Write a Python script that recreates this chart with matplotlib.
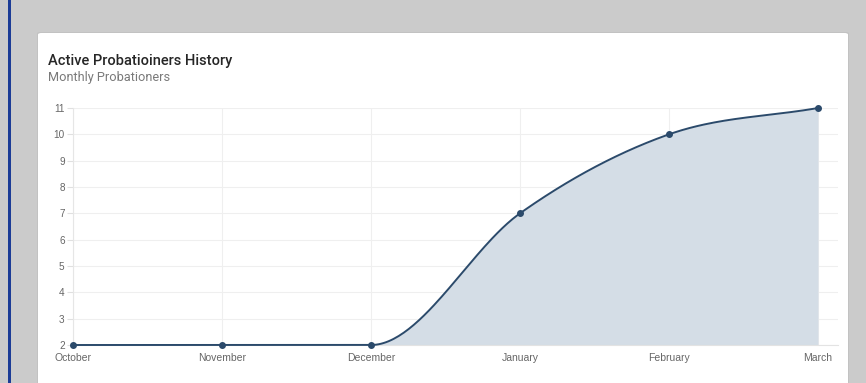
import numpy as np
import matplotlib
matplotlib.use("Agg")
import matplotlib.pyplot as plt
from matplotlib.patches import FancyBboxPatch, Rectangle

months = ["October", "November", "December", "January", "February", "March"]
values = [2, 2, 2, 7, 10, 11]
yticks = list(range(2, 12))
title = "Active Probatioiners History"
subtitle = "Monthly Probationers"

W, H = 866, 383
fig = plt.figure(figsize=(W / 100, H / 100), dpi=100)
fig.patch.set_facecolor("#cbcbcb")

def fx(px):
    return px / W

def fy(py):
    return 1 - py / H

# left blue bar
fig.patches.append(Rectangle((fx(8), 0), fx(3), 1, transform=fig.transFigure,
                             facecolor="#1c3c96", edgecolor="none", zorder=-10))
# card shadow + card
fig.patches.append(FancyBboxPatch((fx(37), fy(400)), fx(812), fy(32) - fy(400),
                                  boxstyle="round,pad=0,rounding_size=0.004",
                                  transform=fig.transFigure, facecolor="#c2c2c2",
                                  edgecolor="none", zorder=-10))
fig.patches.append(FancyBboxPatch((fx(38), fy(400)), fx(810), fy(33) - fy(400),
                                  boxstyle="round,pad=0,rounding_size=0.004",
                                  transform=fig.transFigure, facecolor="white",
                                  edgecolor="none", zorder=-9))

fig.text(fx(48), fy(61), title, fontsize=10.5, color="#262626", family="Roboto",
         weight="medium", va="center", ha="left")
fig.text(fx(48), fy(77), subtitle, fontsize=9.2, color="#7a7a7a", family="Roboto",
         va="center", ha="left")

# axes
left, right, top, bottom = 73, 838, 108, 345
ax = fig.add_axes([fx(left), fy(bottom), fx(right - left), fy(top) - fy(bottom)])
ax.set_zorder(5)
ax.set_facecolor("none")
x = np.arange(len(values))
y = np.array(values, dtype=float)

# monotone cubic (Chart.js style)
d = np.diff(y)
m = np.zeros(len(y))
m[0] = d[0]
m[-1] = d[-1]
for i in range(1, len(y) - 1):
    if np.sign(d[i - 1]) != np.sign(d[i]):
        m[i] = 0
    else:
        m[i] = (d[i - 1] + d[i]) / 2
for i in range(len(d)):
    if d[i] == 0:
        m[i] = m[i + 1] = 0
        continue
    a, b = m[i] / d[i], m[i + 1] / d[i]
    s = a * a + b * b
    if s > 9:
        t = 3 / np.sqrt(s)
        m[i] = t * a * d[i]
        m[i + 1] = t * b * d[i]
xs, ys = [], []
for i in range(len(d)):
    t = np.linspace(0, 1, 60)
    h00 = 2 * t**3 - 3 * t**2 + 1
    h10 = t**3 - 2 * t**2 + t
    h01 = -2 * t**3 + 3 * t**2
    h11 = t**3 - t**2
    xs.append(x[i] + t)
    ys.append(h00 * y[i] + h10 * m[i] + h01 * y[i + 1] + h11 * m[i + 1])
xs = np.concatenate(xs)
ys = np.concatenate(ys)

line_c = "#2b4a6b"
ax.fill_between(xs, 2, ys, color="#d4dde6", linewidth=0, zorder=1)
ax.plot(xs, ys, color=line_c, lw=1.4, zorder=3, clip_on=False)
ax.scatter(x, y, s=16, color=line_c, zorder=4, clip_on=False)

ax.set_xlim(0, 5 + (right - 818) / 149)
ax.set_ylim(2, 11)
ax.set_yticks(yticks)
ax.set_yticklabels([str(v) for v in yticks])
ax.set_xticks(x)
ax.set_xticklabels(months)
ax.grid(True, color="#efefef", lw=0.8)
ax.set_axisbelow(True)
for s in ["top", "right"]:
    ax.spines[s].set_visible(False)
ax.spines["bottom"].set_color("#e3e3e3")
ax.spines["left"].set_color("#e6e6e6")
ax.tick_params(axis="y", length=4, color="#e0e0e0", labelsize=7.2, labelcolor="#666666", pad=2)
ax.tick_params(axis="x", length=0, labelsize=7.5, labelcolor="#666666", pad=6)
for lab in ax.get_xticklabels() + ax.get_yticklabels():
    lab.set_family("Liberation Sans")

fig.savefig("out.png", dpi=100)
